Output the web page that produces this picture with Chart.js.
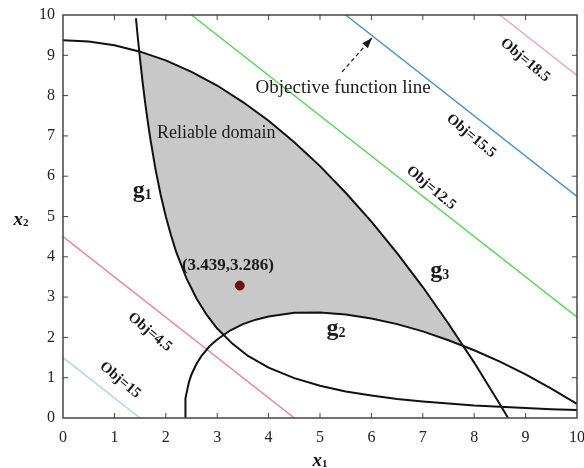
<!DOCTYPE html>
<html lang="en">
<head>
  <meta charset="UTF-8">
  <title>Reliable domain</title>
  <script src="https://cdn.jsdelivr.net/npm/chart.js"></script>
  <style>
    body {
      margin: 0;
      background: #fff;
    }

    .wrap {
      width: 584px;
      height: 468px;
      position: relative;
    }
  </style>
</head>
<body>
  <div class="wrap">
    <canvas id="domainChart"></canvas>
  </div>

  <script>
    // limit state g1: x2 = 20 / x1^2
    const g1Pts = [
      [1.42, 9.92], [1.45, 9.51], [1.5, 8.89], [1.55, 8.32], [1.6, 7.81], [1.65, 7.35],
      [1.7, 6.92], [1.8, 6.17], [1.9, 5.54], [2.0, 5.0], [2.1, 4.54], [2.2, 4.13],
      [2.4, 3.47], [2.6, 2.96], [2.8, 2.55], [3.0, 2.22], [3.3, 1.84], [3.6, 1.54],
      [4.0, 1.25], [4.5, 0.99], [5.0, 0.8], [5.5, 0.66], [6.0, 0.56], [6.5, 0.47],
      [7.0, 0.41], [7.5, 0.36], [8.0, 0.31], [8.5, 0.28], [9.0, 0.25], [9.5, 0.22],
      [10, 0.2]
    ];

    // limit state g2 (elliptic arc)
    const g2Pts = [
      [2.38, 0], [2.377, 0.17], [2.38, 0.34], [2.39, 0.49], [2.45, 0.89], [2.5, 1.08],
      [2.6, 1.35], [2.7, 1.55], [2.85, 1.78], [3.0, 1.95], [3.25, 2.17], [3.5, 2.33],
      [3.75, 2.44], [4.0, 2.52], [4.5, 2.61], [5.0, 2.62], [5.5, 2.57], [6.0, 2.47],
      [6.5, 2.33], [7.0, 2.15], [7.5, 1.93], [8.0, 1.68], [8.5, 1.40], [9.0, 1.08],
      [9.5, 0.73], [10, 0.35]
    ];

    // limit state g3: x2 = (75 - x1^2) / 8
    const g3Pts = [
      [0, 9.375], [0.5, 9.34], [1.0, 9.25], [1.5, 9.09], [2.0, 8.875], [2.5, 8.59],
      [3.0, 8.25], [3.5, 7.84], [4.0, 7.375], [4.5, 6.84], [5.0, 6.25], [5.5, 5.59],
      [6.0, 4.875], [6.5, 4.09], [7.0, 3.25], [7.5, 2.34], [8.0, 1.375], [8.5, 0.34],
      [8.66, 0]
    ];

    // boundary of the feasible (reliable) region
    const domainPts = [
      [1.483, 9.09], [2.0, 8.875], [2.5, 8.59], [3.0, 8.25], [3.5, 7.84], [4.0, 7.375],
      [4.5, 6.84], [5.0, 6.25], [5.5, 5.59], [6.0, 4.875], [6.5, 4.09], [7.0, 3.25],
      [7.5, 2.34], [7.72, 1.86], [7.5, 1.93], [7.0, 2.15], [6.5, 2.33], [6.0, 2.47],
      [5.5, 2.57], [5.0, 2.62], [4.5, 2.61], [4.0, 2.52], [3.75, 2.44], [3.5, 2.33],
      [3.25, 2.17], [3.11, 2.07], [3.0, 2.22], [2.8, 2.55], [2.6, 2.96], [2.4, 3.47],
      [2.2, 4.13], [2.1, 4.54], [2.0, 5.0], [1.9, 5.54], [1.8, 6.17], [1.7, 6.92],
      [1.65, 7.35], [1.6, 7.81], [1.55, 8.32], [1.5, 8.89], [1.483, 9.09]
    ];

    const optimum = [3.439, 3.286];

    // objective contour levels (x1 + x2 = c)
    const objLevels = [1.5, 4.5, 12.5, 15.5, 18.5];
    const objNames = ['Obj=15', 'Obj=4.5', 'Obj=12.5', 'Obj=15.5', 'Obj=18.5'];
    const objColors = ['#a3d9e6', '#e08888', '#5ad25a', '#4a8fc6', '#e6a6c4'];

    const tickValues = [0, 1, 2, 3, 4, 5, 6, 7, 8, 9, 10];

    const toXY = pts => pts.map(p => ({ x: p[0], y: p[1] }));

    // clip the contour line to the 0..10 box
    function levelLine(c) {
      return [
        { x: Math.max(0, c - 10), y: Math.min(10, c) },
        { x: Math.min(10, c), y: Math.max(0, c - 10) }
      ];
    }

    const curveStyle = {
      showLine: true,
      borderColor: '#111',
      borderWidth: 2,
      pointRadius: 0,
      fill: false,
      order: 1
    };

    const datasets = [
      {
        label: 'domain',
        data: toXY(domainPts),
        showLine: true,
        borderWidth: 0,
        borderColor: 'rgba(0,0,0,0)',
        backgroundColor: '#c8c8c8',
        pointRadius: 0,
        fill: 'shape',
        order: 10
      },
      ...objLevels.map((c, i) => ({
        label: objNames[i],
        data: levelLine(c),
        showLine: true,
        borderColor: objColors[i],
        borderWidth: 1.4,
        pointRadius: 0,
        fill: false,
        order: 5
      })),
      { label: 'g1', data: toXY(g1Pts), ...curveStyle },
      { label: 'g2', data: toXY(g2Pts), ...curveStyle },
      { label: 'g3', data: toXY(g3Pts), ...curveStyle },
      {
        label: 'optimum',
        data: [{ x: optimum[0], y: optimum[1] }],
        pointRadius: 4.5,
        pointBackgroundColor: '#6e1010',
        pointBorderColor: '#6e1010',
        order: -1
      }
    ];

    const serif = "'Liberation Serif', 'Times New Roman', serif";

    // letter with a small subscript, centred on (x, y)
    function subText(ctx, main, sub, x, y, size, style) {
      const mainFont = style + ' ' + size + 'px ' + serif;
      const subFont = 'bold ' + Math.round(size * 0.6) + 'px ' + serif;
      ctx.font = mainFont;
      const mw = ctx.measureText(main).width;
      ctx.font = subFont;
      const sw = ctx.measureText(sub).width;
      const left = x - (mw + sw) / 2;
      ctx.textAlign = 'left';
      ctx.textBaseline = 'alphabetic';
      ctx.font = mainFont;
      ctx.fillText(main, left, y + size * 0.3);
      ctx.font = subFont;
      ctx.fillText(sub, left + mw, y + size * 0.36);
    }

    const annotations = {
      id: 'annotations',
      afterDraw(chart) {
        const { ctx, chartArea: a, scales: { x, y } } = chart;
        const px = v => x.getPixelForValue(v);
        const py = v => y.getPixelForValue(v);

        ctx.save();
        ctx.fillStyle = '#1a1a1a';

        // rotated contour labels
        const objAt = [[1.11, 0.94], [1.69, 2.13], [7.16, 5.71], [7.94, 7.0], [8.99, 8.88]];
        ctx.font = 'bold 15px ' + serif;
        ctx.textAlign = 'center';
        ctx.textBaseline = 'middle';
        objAt.forEach((p, i) => {
          ctx.save();
          ctx.translate(px(p[0]), py(p[1]));
          ctx.rotate(40 * Math.PI / 180);
          ctx.fillText(objNames[i], 0, 0);
          ctx.restore();
        });

        ctx.font = '19px ' + serif;
        ctx.fillText('Objective function line', px(5.45), py(8.19));
        ctx.font = '18px ' + serif;
        ctx.fillText('Reliable domain', px(2.98), py(7.07));
        ctx.font = 'bold 17px ' + serif;
        ctx.fillText('(3.439,3.286)', px(3.21), py(3.77));

        // dashed arrow pointing towards the increasing objective
        const x0 = px(5.43), y0 = py(8.59), x1 = px(6.01), y1 = py(9.43);
        ctx.strokeStyle = '#1a1a1a';
        ctx.lineWidth = 1.3;
        ctx.setLineDash([4, 3]);
        ctx.beginPath();
        ctx.moveTo(x0, y0);
        ctx.lineTo(x1, y1);
        ctx.stroke();
        ctx.setLineDash([]);
        const ang = Math.atan2(y1 - y0, x1 - x0);
        ctx.beginPath();
        ctx.moveTo(x1, y1);
        ctx.lineTo(x1 - 11 * Math.cos(ang - 0.35), y1 - 11 * Math.sin(ang - 0.35));
        ctx.lineTo(x1 - 11 * Math.cos(ang + 0.35), y1 - 11 * Math.sin(ang + 0.35));
        ctx.closePath();
        ctx.fill();

        // limit state names
        subText(ctx, 'g', '1', px(1.54), py(5.66), 24, 'bold');
        subText(ctx, 'g', '3', px(7.33), py(3.67), 24, 'bold');
        subText(ctx, 'g', '2', px(5.31), py(2.23), 24, 'bold');

        // frame with inward ticks
        ctx.strokeStyle = '#444';
        ctx.lineWidth = 1.5;
        ctx.strokeRect(a.left, a.top, a.right - a.left, a.bottom - a.top);
        ctx.lineWidth = 1;
        ctx.beginPath();
        tickValues.slice(1, -1).forEach(v => {
          const tx = px(v), ty = py(v);
          ctx.moveTo(tx, a.bottom); ctx.lineTo(tx, a.bottom - 5);
          ctx.moveTo(tx, a.top); ctx.lineTo(tx, a.top + 5);
          ctx.moveTo(a.left, ty); ctx.lineTo(a.left + 5, ty);
          ctx.moveTo(a.right, ty); ctx.lineTo(a.right - 5, ty);
        });
        ctx.stroke();

        // axis titles
        ctx.fillStyle = '#111';
        subText(ctx, 'x', '1', (a.left + a.right) / 2, 460, 19, 'bold italic');
        subText(ctx, 'x', '2', 21, 219, 19, 'bold italic');
        ctx.restore();
      }
    };

    new Chart(document.getElementById('domainChart'), {
      type: 'scatter',
      data: { datasets },
      options: {
        responsive: true,
        maintainAspectRatio: false,
        animation: false,
        layout: { padding: { top: 15, right: 7, left: 0, bottom: 0 } },
        plugins: {
          legend: { display: false },
          tooltip: { enabled: false }
        },
        scales: {
          x: {
            type: 'linear',
            min: 0,
            max: 10,
            afterFit: s => {
              s.height = 50;
              s.paddingLeft = 0;
              s.paddingRight = 0;
            },
            afterBuildTicks: s => { s.ticks = tickValues.map(v => ({ value: v })); },
            grid: { display: false, drawTicks: false },
            border: { display: false },
            ticks: {
              padding: 10,
              color: '#222',
              font: { family: serif, size: 16 }
            }
          },
          y: {
            type: 'linear',
            min: 0,
            max: 10,
            afterFit: s => {
              s.width = 63;
              s.paddingTop = 0;
              s.paddingBottom = 0;
            },
            afterBuildTicks: s => { s.ticks = tickValues.map(v => ({ value: v })); },
            grid: { display: false, drawTicks: false },
            border: { display: false },
            ticks: {
              padding: 8,
              color: '#222',
              font: { family: serif, size: 16 }
            }
          }
        }
      },
      plugins: [annotations]
    });
  </script>
</body>
</html>
